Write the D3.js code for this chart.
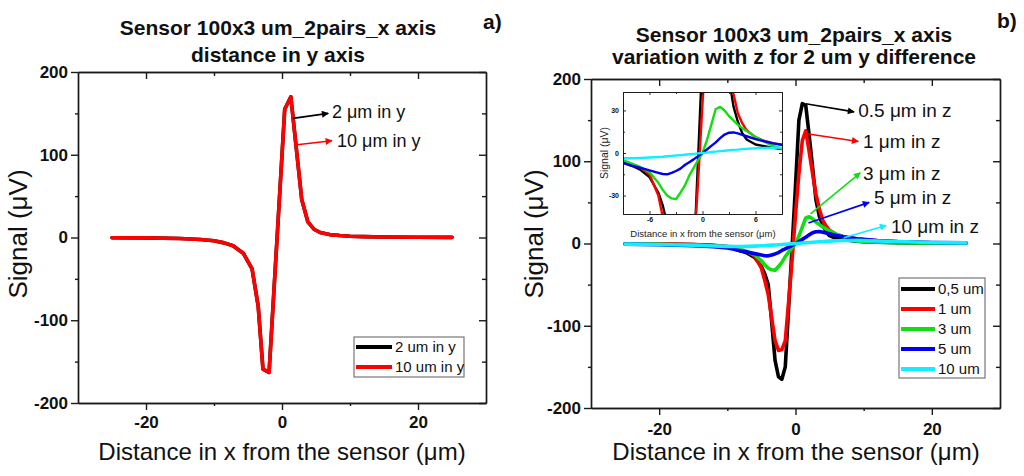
<!DOCTYPE html>
<html>
<head>
<meta charset="utf-8">
<script src="https://cdn.jsdelivr.net/npm/d3@7"></script>
<style>
  body { margin: 0; background: #fff; }
  svg { display: block; font-family: "Liberation Sans", Arial, sans-serif; }
</style>
</head>
<body>
<svg id="chart" width="1024" height="476"></svg>
<script>
// ---- panel a) : distance in y ----
const leftX = [-25, -20, -15, -12, -10, -8.5, -7.2, -5.7, -4.4, -3.5, -2.8, -1.9, 0.4, 1.3, 2.9, 3.8, 4.7, 5.6, 7, 8.5, 10, 12, 15, 20, 25];
const sig2umY = [-0.3, -0.5, -1.2, -2.5, -4, -6.5, -10, -19, -38, -83, -159, -163, 155, 170, 46, 19, 10, 6, 3.5, 2.4, 1.6, 1, 0.6, 0.3, 0.2];
const sig10umY = [-0.3, -0.5, -1.2, -2.5, -4, -6.5, -10, -19, -38, -83, -159, -163, 155, 170, 46, 19, 10, 6, 3.5, 2.4, 1.6, 1, 0.6, 0.3, 0.2];
const leftNames = ["2 um in y", "10 um in y"];

// ---- panel b) : variation with z ----
const rightX = [-25, -20, -15, -12, -10, -9, -8, -7, -6, -5, -4.5, -4, -3.5, -3, -2.5, -2, -1.5, -1, -0.5, 0,
                0.5, 1, 1.5, 2, 2.5, 3, 3.5, 4, 4.5, 5, 6, 7, 8, 9, 10, 12, 15, 20, 25];
const sig05umZ = [-0.3, -0.6, -1.3, -2.4, -4, -6.5, -9, -12, -17, -28, -37, -50, -95, -142, -162, -165, -150, -77, -4, 70,
                  150, 170, 168, 132, 93, 53, 33, 22, 14, 9.5, 6, 4.8, 3.6, 2.8, 2.2, 1.5, 0.9, 0.5, 0.3];
const sig1umZ = [-0.3, -0.6, -1.3, -2.3, -3.8, -5.6, -8, -10.5, -15, -30, -45, -62, -90, -118, -130, -129, -118, -70, -20, 35,
                 85, 125, 137, 112, 85, 60, 42, 28, 21, 16, 11, 8.5, 7, 5.7, 4.7, 3.2, 2, 1, 0.5];
const sig3umZ = [-0.5, -1, -2, -3, -4, -5, -7.5, -10, -13.5, -21, -26, -30, -32, -32.5, -28, -23, -16, -10.5, -5, 0,
                 9, 20, 31, 32.5, 30, 26, 23, 20, 17.5, 15.5, 11.5, 8, 5, 3, 2.2, 1.5, 0.9, 0.5, 0.3];
const sig5umZ = [-0.8, -1.5, -2.8, -4, -5.5, -7, -9, -10.5, -12.3, -14, -14.8, -15, -14, -12.7, -11, -8.5, -6.5, -4.5, -2.2, 0,
                 2.5, 5, 7.5, 10.5, 13, 14.3, 14.5, 13.8, 12.8, 11.8, 9.8, 8.2, 6.8, 5.8, 5, 3.5, 2.3, 1.3, 0.8];
const sig10umZ = [-0.8, -1.3, -2.2, -3, -3.5, -3.7, -3.7, -3.5, -3.2, -2.8, -2.6, -2.3, -2, -1.8, -1.5, -1.2, -0.9, -0.6, -0.3, 0,
                  0.3, 0.7, 1, 1.3, 1.6, 1.9, 2.2, 2.4, 2.7, 2.9, 3.3, 3.6, 3.7, 3.8, 3.6, 3.1, 2.3, 1.3, 0.8];
const rightNames = ["0,5 um", "1 um", "3 um", "5 um", "10 um"];

const colors = ["#000000", "#ff0000", "#11dd11", "#0000ee", "#11eeff"];

// arrows + labels, in data units of each panel
const leftNotes = [
  {text: "2 μm in y", c: 0, from: [1.6, 144], to: [6.8, 150], at: [7.35, 144]},
  {text: "10 μm in y", c: 1, from: [2.2, 112], to: [7.35, 117], at: [8.1, 109.6]}
];
const rightNotes = [
  {text: "0.5 μm in z", c: 0, from: [1.5, 170], to: [8.6, 160], at: [9.2, 154]},
  {text: "1 μm in z", c: 1, from: [1.2, 134], to: [9.2, 124], at: [9.9, 116.5]},
  {text: "3 μm in z", c: 2, from: [2.2, 36], to: [9.5, 86], at: [9.9, 77.5]},
  {text: "5 μm in z", c: 3, from: [1.9, 25], to: [10.8, 50], at: [11.5, 48.5]},
  {text: "10 μm in z", c: 4, from: [7.1, 7], to: [13.3, 22], at: [14, 13]}
];

const svg = d3.select("#chart");
const ink = "#1a1a1a";

const defs = svg.append("defs");
colors.forEach((c, i) => {
  defs.append("marker")
    .attr("id", "arr" + i)
    .attr("viewBox", "0 0 10 10")
    .attr("refX", 9).attr("refY", 5)
    .attr("markerWidth", 9).attr("markerHeight", 7)
    .attr("markerUnits", "userSpaceOnUse")
    .attr("orient", "auto")
    .append("path").attr("d", "M0,0L10,5L0,10z").attr("fill", c);
});

// four-sided Origin style frame: bottom/left ticks out with labels, top/right ticks in
function drawFrame(g, x, y, o) {
  const [l, r] = x.range();
  const [b, t] = y.range();
  const fmt = d => String(d);
  const add = (axis, tr, vals, size, pad, labels) => {
    const a = g.append("g").attr("transform", tr)
      .call(axis.tickValues(vals).tickSize(size).tickSizeOuter(0).tickPadding(pad).tickFormat(labels ? fmt : ""));
    a.select(".domain").attr("stroke", ink).attr("stroke-width", o.sw);
    a.selectAll(".tick line").attr("stroke", ink).attr("stroke-width", o.sw);
    a.attr("font-family", null).attr("font-size", null);
    a.selectAll("text").attr("font-size", o.font).attr("font-weight", "bold").attr("fill", "#111");
    return a;
  };
  add(d3.axisBottom(x), `translate(0,${b})`, o.xMajor, o.outMajor, o.xPad, true);
  add(d3.axisBottom(x), `translate(0,${b})`, o.xMinor, o.outMinor, 0, false);
  add(d3.axisLeft(y), `translate(${l},0)`, o.yMajor, o.outMajor, o.yPad, true);
  add(d3.axisLeft(y), `translate(${l},0)`, o.yMinor, o.outMinor, 0, false);
  add(d3.axisTop(x), `translate(0,${t})`, o.xMajor, -o.inMajor, 0, false);
  add(d3.axisTop(x), `translate(0,${t})`, o.xMinor, -o.inMinor, 0, false);
  add(d3.axisRight(y), `translate(${r},0)`, o.yMajor, -o.inMajor, 0, false);
  add(d3.axisRight(y), `translate(${r},0)`, o.yMinor, -o.inMinor, 0, false);
}

function drawLines(g, x, y, xs, series, width) {
  const line = d3.line().x((d, i) => x(xs[i])).y(d => y(d));
  series.forEach((s, i) => {
    g.append("path").attr("d", line(s))
      .attr("fill", "none").attr("stroke", colors[i])
      .attr("stroke-width", width).attr("stroke-linejoin", "round").attr("stroke-linecap", "round");
  });
}

function drawNotes(g, x, y, notes, size) {
  notes.forEach(n => {
    g.append("line")
      .attr("x1", x(n.from[0])).attr("y1", y(n.from[1]))
      .attr("x2", x(n.to[0])).attr("y2", y(n.to[1]))
      .attr("stroke", colors[n.c]).attr("stroke-width", 1.6)
      .attr("marker-end", `url(#arr${n.c})`);
    g.append("text").attr("x", x(n.at[0])).attr("y", y(n.at[1]))
      .attr("font-size", size).attr("fill", "#111").text(n.text);
  });
}

function drawLegend(g, box, names, rowH) {
  g.append("rect").attr("x", box.x).attr("y", box.y).attr("width", box.w).attr("height", box.h)
    .attr("fill", "#fff").attr("stroke", "#777").attr("stroke-width", 1.2);
  names.forEach((n, i) => {
    const yy = box.y + box.first + i * rowH;
    g.append("line").attr("x1", box.x + 2).attr("x2", box.x + box.lineW).attr("y1", yy).attr("y2", yy)
      .attr("stroke", colors[i]).attr("stroke-width", 4);
    g.append("text").attr("x", box.x + box.lineW + 3).attr("y", yy + 5)
      .attr("font-size", 15).attr("fill", "#111").text(n);
  });
}

function titles(g, cx, lines, base) {
  lines.forEach((s, i) => {
    g.append("text").attr("x", cx).attr("y", base[i]).attr("text-anchor", "middle")
      .attr("font-size", 21).attr("font-weight", "bold").attr("fill", "#111").text(s);
  });
}

const frameOpts = {
  xMajor: [-20, 0, 20], xMinor: [-10, 10],
  yMajor: [-200, -100, 0, 100, 200], yMinor: [-150, -50, 50, 150],
  outMajor: 7, outMinor: 3, inMajor: 7, inMinor: 4,
  font: 17, sw: 1.4, yPad: 3
};

// ---------- panel a ----------
{
  const g = svg.append("g");
  const x = d3.scaleLinear().domain([-30, 30]).range([78, 486]);
  const y = d3.scaleLinear().domain([-200, 200]).range([403, 72]);
  drawLines(g, x, y, leftX, [sig2umY, sig10umY], 3.6);
  drawFrame(g, x, y, Object.assign({}, frameOpts, {xPad: 6}));
  drawNotes(g, x, y, leftNotes, 18);
  drawLegend(g, {x: 354, y: 337, w: 110, h: 40, first: 10, lineW: 38}, leftNames, 20);
  titles(g, 278, ["Sensor 100x3 um_2pairs_x axis", "distance in y axis"], [35, 62]);
  g.append("text").attr("x", 483).attr("y", 29).attr("font-size", 21).attr("font-weight", "bold").attr("fill", "#111").text("a)");
  g.append("text").attr("transform", "translate(27,234) rotate(-90)").attr("text-anchor", "middle")
    .attr("font-size", 26).attr("fill", "#111").text("Signal (μV)");
  g.append("text").attr("x", 282).attr("y", 460).attr("text-anchor", "middle")
    .attr("font-size", 24).attr("fill", "#111").text("Distance in x from the sensor (μm)");
}

// ---------- panel b ----------
{
  const g = svg.append("g");
  const x = d3.scaleLinear().domain([-30, 30]).range([591, 1000]);
  const y = d3.scaleLinear().domain([-200, 200]).range([408, 79]);
  const series = [sig05umZ, sig1umZ, sig3umZ, sig5umZ, sig10umZ];
  drawLines(g, x, y, rightX, series, 3.6);
  drawFrame(g, x, y, Object.assign({}, frameOpts, {xPad: 8}));
  drawNotes(g, x, y, rightNotes, 19);
  drawLegend(g, {x: 899, y: 278, w: 86, h: 100, first: 11, lineW: 36}, rightNames, 20);
  titles(g, 794, ["Sensor 100x3 um_2pairs_x axis", "variation with z for 2 um y difference"], [42, 64]);
  g.append("text").attr("x", 997).attr("y", 28).attr("font-size", 21).attr("font-weight", "bold").attr("fill", "#111").text("b)");
  g.append("text").attr("transform", "translate(543,234) rotate(-90)").attr("text-anchor", "middle")
    .attr("font-size", 26).attr("fill", "#111").text("Signal (μV)");
  g.append("text").attr("x", 796).attr("y", 460).attr("text-anchor", "middle")
    .attr("font-size", 24).attr("fill", "#111").text("Distance in x from the sensor (μm)");

  // inset zoom
  const ix = d3.scaleLinear().domain([-9, 9]).range([623, 782]);
  const iy = d3.scaleLinear().domain([-43, 43]).range([214, 92]);
  const ig = g.append("g");
  ig.append("rect").attr("x", 623).attr("y", 92).attr("width", 159).attr("height", 122).attr("fill", "#fff");
  defs.append("clipPath").attr("id", "insetClip")
    .append("rect").attr("x", 623).attr("y", 92).attr("width", 159).attr("height", 122);
  const lg = ig.append("g").attr("clip-path", "url(#insetClip)");
  drawLines(lg, ix, iy, rightX, series, 2.4);
  drawFrame(ig, ix, iy, {
    xMajor: [-6, 0, 6], xMinor: [-3, 3],
    yMajor: [-30, 0, 30], yMinor: [-15, 15],
    outMajor: -3, outMinor: -2, inMajor: 3, inMinor: 2,
    font: 7, sw: 0.9, xPad: 3, yPad: 4
  });
  ig.append("text").attr("transform", "translate(608,153) rotate(-90)").attr("text-anchor", "middle")
    .attr("font-size", 10.5).attr("fill", "#222").text("Signal (μV)");
  ig.append("text").attr("x", 703).attr("y", 237).attr("text-anchor", "middle")
    .attr("font-size", 9.5).attr("fill", "#222").text("Distance in x from the sensor (μm)");
}
</script>
</body>
</html>
